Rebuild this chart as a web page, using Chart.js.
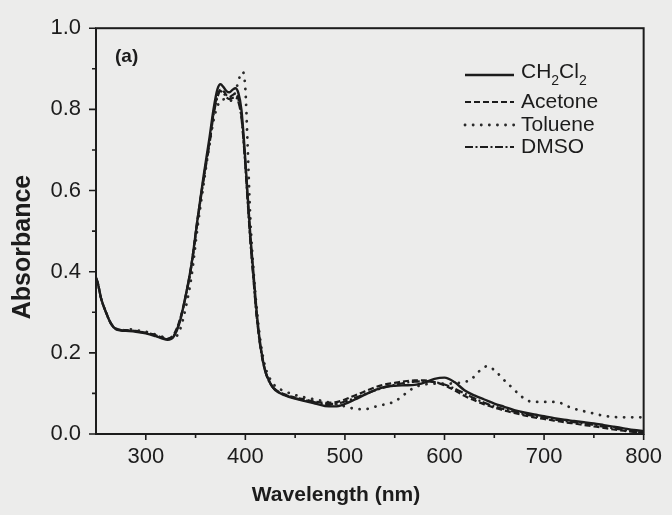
<!DOCTYPE html>
<html>
<head>
<meta charset="utf-8">
<script src="https://cdn.jsdelivr.net/npm/chart.js@4"></script>
<style>
  html, body { margin: 0; padding: 0; background: #ececeb; }
  #wrap { width: 672px; height: 515px; }
</style>
</head>
<body>
<div id="wrap"><canvas id="c" width="672" height="515"></canvas></div>
<script>
// Absorption spectra of the dye in four solvents
const wavelength = [250, 252, 255, 260, 265, 270, 275, 280, 290, 300, 310, 316, 322, 328, 334, 340, 346, 352, 358, 364, 368, 372, 375, 378, 381, 384, 387, 390, 393, 396, 399, 402, 405, 408, 411, 414, 417, 420, 425, 430, 440, 450, 460, 470, 480, 490, 500, 510, 520, 530, 540, 550, 560, 570, 580, 590, 600, 610, 620, 630, 640, 650, 660, 670, 680, 690, 700, 710, 720, 730, 740, 750, 760, 770, 780, 790, 800];

const absCH2Cl2 = [0.385, 0.37, 0.335, 0.30, 0.272, 0.258, 0.255, 0.254, 0.252, 0.248, 0.241, 0.236, 0.232, 0.240, 0.275, 0.34, 0.42, 0.53, 0.635, 0.73, 0.80, 0.85, 0.862, 0.855, 0.845, 0.842, 0.848, 0.852, 0.84, 0.80, 0.71, 0.60, 0.49, 0.40, 0.31, 0.24, 0.19, 0.155, 0.125, 0.108, 0.095, 0.087, 0.081, 0.075, 0.069, 0.068, 0.074, 0.085, 0.097, 0.108, 0.116, 0.119, 0.120, 0.121, 0.127, 0.136, 0.139, 0.128, 0.108, 0.095, 0.085, 0.075, 0.067, 0.059, 0.053, 0.048, 0.044, 0.039, 0.035, 0.032, 0.029, 0.026, 0.022, 0.018, 0.014, 0.010, 0.007];

const absAcetone = [0.385, 0.37, 0.335, 0.30, 0.273, 0.26, 0.257, 0.256, 0.254, 0.25, 0.244, 0.238, 0.235, 0.245, 0.28, 0.34, 0.42, 0.53, 0.63, 0.72, 0.79, 0.835, 0.848, 0.845, 0.835, 0.83, 0.835, 0.838, 0.825, 0.785, 0.70, 0.59, 0.48, 0.39, 0.30, 0.235, 0.188, 0.155, 0.125, 0.11, 0.097, 0.09, 0.085, 0.08, 0.077, 0.078, 0.085, 0.095, 0.105, 0.115, 0.122, 0.126, 0.130, 0.132, 0.132, 0.128, 0.120, 0.108, 0.094, 0.083, 0.073, 0.065, 0.058, 0.052, 0.046, 0.041, 0.037, 0.033, 0.029, 0.026, 0.022, 0.019, 0.015, 0.011, 0.008, 0.005, 0.003];

const absDMSO = [0.385, 0.37, 0.335, 0.30, 0.272, 0.259, 0.256, 0.255, 0.253, 0.249, 0.243, 0.237, 0.234, 0.242, 0.277, 0.338, 0.415, 0.525, 0.625, 0.715, 0.785, 0.83, 0.845, 0.84, 0.83, 0.825, 0.828, 0.83, 0.818, 0.78, 0.695, 0.585, 0.475, 0.385, 0.298, 0.233, 0.186, 0.154, 0.124, 0.109, 0.096, 0.088, 0.083, 0.078, 0.074, 0.074, 0.080, 0.089, 0.098, 0.107, 0.115, 0.121, 0.126, 0.129, 0.130, 0.128, 0.122, 0.112, 0.100, 0.088, 0.077, 0.068, 0.061, 0.055, 0.049, 0.044, 0.040, 0.036, 0.032, 0.029, 0.026, 0.022, 0.018, 0.014, 0.010, 0.006, 0.003];

const wavelengthToluene = [285, 290, 300, 310, 316, 322, 328, 334, 340, 346, 352, 358, 364, 368, 372, 376, 380, 384, 388, 392, 395, 397.5, 400, 402, 405, 408, 411, 414, 417, 420, 425, 430, 440, 450, 460, 470, 480, 490, 500, 510, 520, 530, 540, 550, 560, 570, 580, 590, 600, 610, 620, 627, 634, 643, 652, 659, 667, 674, 682, 690, 700, 709, 717, 725, 735, 744, 752, 762, 770, 780, 790, 800];

const absToluene = [0.258, 0.256, 0.252, 0.245, 0.24, 0.236, 0.236, 0.255, 0.31, 0.39, 0.51, 0.615, 0.715, 0.772, 0.808, 0.823, 0.825, 0.82, 0.83, 0.86, 0.885, 0.892, 0.85, 0.73, 0.53, 0.41, 0.32, 0.25, 0.20, 0.165, 0.135, 0.118, 0.105, 0.096, 0.090, 0.085, 0.080, 0.074, 0.068, 0.062, 0.061, 0.067, 0.073, 0.080, 0.098, 0.115, 0.122, 0.124, 0.124, 0.125, 0.128, 0.135, 0.153, 0.167, 0.153, 0.135, 0.116, 0.100, 0.084, 0.079, 0.079, 0.079, 0.076, 0.067, 0.059, 0.054, 0.049, 0.044, 0.042, 0.041, 0.041, 0.041];

const xLabelTicks = [300, 400, 500, 600, 700, 800];
const xMinorTicks = [350, 450, 550, 650, 750];
const yLabelTicks = [0, 0.2, 0.4, 0.6, 0.8, 1.0];
const yMinorTicks = [0.1, 0.3, 0.5, 0.7, 0.9];

const solventLabels = ['CH2Cl2', 'Acetone', 'Toluene', 'DMSO'];

const ink = '#1c1c1c';
const FONT = '"Liberation Sans", Arial, sans-serif';

function pts(xs, ys) { return xs.map((x, i) => ({ x: x, y: ys[i] })); }

const datasets = [
  { label: solventLabels[0], data: pts(wavelength, absCH2Cl2), borderColor: ink, borderWidth: 2.4, borderDash: [] },
  { label: solventLabels[1], data: pts(wavelength, absAcetone), borderColor: ink, borderWidth: 2.2, borderDash: [6, 3] },
  { label: solventLabels[2], data: pts(wavelengthToluene, absToluene), borderColor: '#2a2a2a', borderWidth: 2.8, borderDash: [0.1, 8], borderCapStyle: 'round' },
  { label: solventLabels[3], data: pts(wavelength, absDMSO), borderColor: ink, borderWidth: 2.2, borderDash: [8, 2.5, 2, 2.5] }
].map(d => Object.assign({ pointRadius: 0, fill: false, cubicInterpolationMode: 'monotone' }, d));

// Frame, outward tick marks, titles, panel tag and legend
const decorations = {
  id: 'decorations',
  afterDraw(chart) {
    const ctx = chart.ctx;
    const a = chart.chartArea;
    const xs = chart.scales.x, ys = chart.scales.y;
    ctx.save();
    ctx.strokeStyle = ink;
    ctx.lineWidth = 2;
    ctx.strokeRect(a.left, a.top, a.right - a.left, a.bottom - a.top);

    ctx.lineWidth = 1.6;
    ctx.beginPath();
    xLabelTicks.forEach(v => { const p = xs.getPixelForValue(v); ctx.moveTo(p, a.bottom); ctx.lineTo(p, a.bottom + 6); });
    xMinorTicks.forEach(v => { const p = xs.getPixelForValue(v); ctx.moveTo(p, a.bottom); ctx.lineTo(p, a.bottom + 4); });
    yLabelTicks.forEach(v => { const p = ys.getPixelForValue(v); ctx.moveTo(a.left, p); ctx.lineTo(a.left - 7, p); });
    yMinorTicks.forEach(v => { const p = ys.getPixelForValue(v); ctx.moveTo(a.left, p); ctx.lineTo(a.left - 4, p); });
    ctx.stroke();

    ctx.fillStyle = ink;
    ctx.textAlign = 'center';
    ctx.textBaseline = 'middle';
    ctx.font = 'bold 21px ' + FONT;
    ctx.fillText('Wavelength (nm)', 336, 495);

    ctx.save();
    ctx.translate(23, 247);
    ctx.rotate(-Math.PI / 2);
    ctx.font = 'bold 25px ' + FONT;
    ctx.fillText('Absorbance', 0, 0);
    ctx.restore();

    ctx.textAlign = 'left';
    ctx.font = 'bold 19px ' + FONT;
    ctx.fillText('(a)', 115, 57);

    // legend
    const rowsY = [75, 102, 125, 147];
    const lx0 = 465, lx1 = 514, tx = 521;
    chart.data.datasets.forEach((ds, i) => {
      const y = rowsY[i];
      ctx.save();
      ctx.strokeStyle = ds.borderColor;
      ctx.lineWidth = ds.borderWidth;
      ctx.lineCap = ds.borderCapStyle || 'butt';
      ctx.setLineDash(ds.borderDash || []);
      ctx.beginPath();
      ctx.moveTo(lx0, y);
      ctx.lineTo(lx1, y);
      ctx.stroke();
      ctx.restore();

      ctx.font = '21px ' + FONT;
      ctx.textBaseline = 'middle';
      if (ds.label === 'CH2Cl2') {
        let x = tx;
        const parts = [['CH', 0], ['2', 1], ['Cl', 0], ['2', 1]];
        parts.forEach(([t, sub]) => {
          ctx.font = (sub ? '14px ' : '21px ') + FONT;
          ctx.fillText(t, x, y - 3 + (sub ? 9 : 0));
          x += ctx.measureText(t).width;
        });
      } else {
        ctx.fillText(ds.label, tx, y);
      }
    });
    ctx.restore();
  }
};

new Chart(document.getElementById('c'), {
  type: 'line',
  data: { datasets: datasets },
  options: {
    responsive: false,
    animation: false,
    devicePixelRatio: 1,
    layout: { padding: { left: 0, top: 28, right: 24, bottom: 0 } },
    plugins: { legend: { display: false }, tooltip: { enabled: false } },
    scales: {
      x: {
        type: 'linear',
        min: 250,
        max: 800,
        afterBuildTicks: s => { s.ticks = xLabelTicks.map(v => ({ value: v })); },
        afterFit: s => { s.height = 81; },
        grid: { display: false, drawTicks: false },
        border: { display: false },
        ticks: { padding: 10, color: ink, font: { family: FONT, size: 22 }, maxRotation: 0, autoSkip: false }
      },
      y: {
        min: 0,
        max: 1,
        afterBuildTicks: s => { s.ticks = yLabelTicks.map(v => ({ value: v })); },
        afterFit: s => { s.width = 96; },
        grid: { display: false, drawTicks: false },
        border: { display: false },
        ticks: { padding: 15, color: ink, font: { family: FONT, size: 22 }, callback: v => Number(v).toFixed(1) }
      }
    }
  },
  plugins: [decorations]
});
</script>
</body>
</html>
